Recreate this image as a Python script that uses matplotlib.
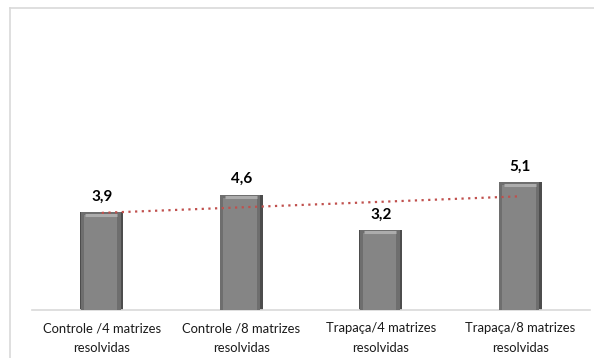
import numpy as np
import matplotlib
matplotlib.use("Agg")
import matplotlib.pyplot as plt
from matplotlib.lines import Line2D

plt.rcParams['font.family'] = ['Lato', 'DejaVu Sans']

categorias = ["Controle /4 matrizes\nresolvidas", "Controle /8 matrizes\nresolvidas",
              "Trapaça/4 matrizes\nresolvidas", "Trapaça/8 matrizes\nresolvidas"]
valores = [3.9, 4.6, 3.2, 5.1]
rotulos = ["3,9", "4,6", "3,2", "5,1"]

fig = plt.figure(figsize=(5.94, 3.58), dpi=100)
ax = fig.add_axes([32/594, 48/358, 558/594, 280/358])

x = np.arange(len(valores))
largura = 0.31

# barra com efeito de bisel (camadas)
ax.bar(x, valores, width=largura, color='#4d4d4d', zorder=2)
ax.bar(x - largura*0.02, valores, width=largura*0.92, color='#6e6e6e', zorder=3)
ax.bar(x - largura*0.03, np.array(valores) - 0.12, width=largura*0.78,
       color='#858585', zorder=4)
for xi, v in zip(x, valores):
    ax.plot([xi - largura*0.38, xi + largura*0.36], [v - 0.1, v - 0.1],
            color='#acacac', lw=2.2, zorder=5, solid_capstyle='butt')

for xi, v, r in zip(x, valores, rotulos):
    ax.text(xi, v + 0.33, r, ha='center', va='bottom', fontsize=11,
            fontweight='bold', color='black')

# linha de tendencia
a, b = np.polyfit(x, valores, 1)
xt = np.array([0, 3])
ax.plot(xt, a*xt + b, ls=(0, (1, 2)), color='#c0504d', lw=1.6, zorder=6)

ax.set_xlim(-0.5, 3.5)
ax.set_ylim(0, 280/25.1)
ax.set_xticks(x)
ax.set_xticklabels(categorias, fontsize=9.4, color='#1a1a1a', linespacing=1.7)
ax.tick_params(axis='x', length=0, pad=9)
ax.set_yticks([])
for s in ['top', 'right', 'left']:
    ax.spines[s].set_visible(False)
ax.spines['bottom'].set_color('#d9d9d9')
ax.spines['bottom'].set_linewidth(1.2)

# moldura do grafico
fig.add_artist(Line2D([10/594, 1], [1 - 8/358, 1 - 8/358], color='#d9d9d9', lw=1.2))
fig.add_artist(Line2D([10/594, 10/594], [0, 1 - 8/358], color='#d9d9d9', lw=1.2))

fig.savefig("out.png", dpi=100)
